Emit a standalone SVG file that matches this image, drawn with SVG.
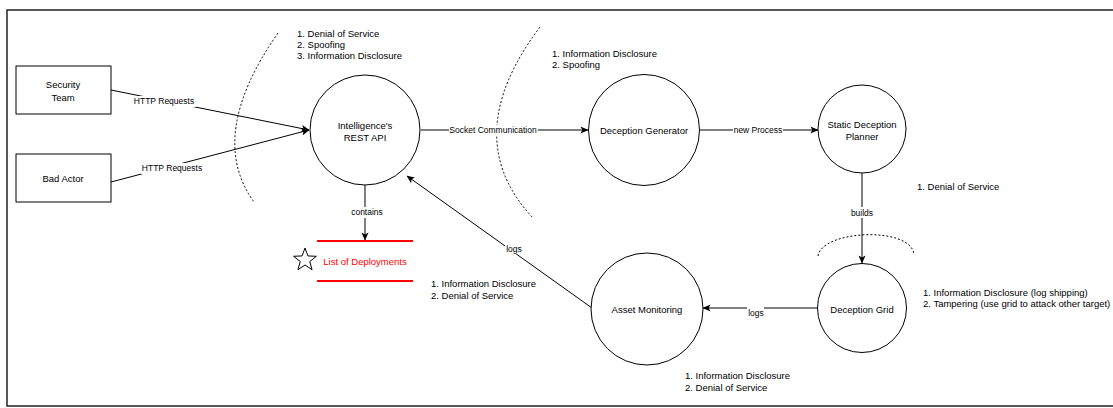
<svg xmlns="http://www.w3.org/2000/svg" width="1113" height="408" viewBox="0 0 1113 408">
  <defs>
    <marker id="arrow" viewBox="0 0 10 10" refX="9.5" refY="5" markerWidth="8" markerHeight="8" markerUnits="userSpaceOnUse" orient="auto">
      <path d="M0,0.5 L10,5 L0,9.5 L2.5,5 Z" fill="#000"/>
    </marker>
    <style>
      text { font-family: "Liberation Sans", Arial, sans-serif; fill: #000; }
      .node { fill: #fff; stroke: #000; stroke-width: 1; }
      .lbl { font-size: 9.5px; text-anchor: middle; dominant-baseline: central; }
      .elbl { font-size: 8.5px; text-anchor: middle; dominant-baseline: central; }
      .list { font-size: 9.5px; dominant-baseline: central; }
      .edge { fill: none; stroke: #000; stroke-width: 1; }
      .bg { fill: #fff; }
      .boundary { fill: none; stroke: #000; stroke-width: 1; stroke-dasharray: 2 2; }
      .store { stroke: #ff0000; stroke-width: 2; }
    </style>
  </defs>

  <rect width="1113" height="408" fill="#fff"/>
  <!-- outer frame -->
  <path d="M1113,10 H7 V406 H1113" fill="none" stroke="#222" stroke-width="1.5"/>

  <!-- trust boundaries -->
  <g id="boundaries">
    <path class="boundary" d="M278,33 Q206,136 254,202"/>
    <path class="boundary" d="M540,27 Q457,137 533,218"/>
    <path class="boundary" d="M818,256 C822,230 910,226 914,254"/>
  </g>

  <!-- connectors -->
  <g id="connectors">
    <line class="edge" x1="111" y1="90" x2="309" y2="130" marker-end="url(#arrow)"/>
    <line class="edge" x1="111" y1="182" x2="309" y2="130" marker-end="url(#arrow)"/>
    <line class="edge" x1="421" y1="130" x2="588" y2="130" marker-end="url(#arrow)"/>
    <line class="edge" x1="699" y1="130" x2="818" y2="130" marker-end="url(#arrow)"/>
    <line class="edge" x1="862" y1="173" x2="862" y2="263" marker-end="url(#arrow)"/>
    <line class="edge" x1="818" y1="308" x2="703" y2="308" marker-end="url(#arrow)"/>
    <line class="edge" x1="592" y1="308" x2="407" y2="176" marker-end="url(#arrow)"/>
    <line class="edge" x1="365" y1="185" x2="365" y2="240" marker-end="url(#arrow)"/>

    <rect class="bg" x="133" y="96" width="63" height="11"/>
    <text class="elbl" x="164" y="101">HTTP Requests</text>
    <rect class="bg" x="141" y="163" width="62" height="11"/>
    <text class="elbl" x="172" y="168">HTTP Requests</text>
    <rect class="bg" x="449" y="125" width="89" height="11"/>
    <text class="elbl" x="493" y="130">Socket Communication</text>
    <rect class="bg" x="733" y="125" width="50" height="11"/>
    <text class="elbl" x="758" y="130">new Process</text>
    <rect class="bg" x="848" y="207" width="28" height="11"/>
    <text class="elbl" x="862" y="213">builds</text>
    <rect class="bg" x="747" y="307" width="17" height="11"/>
    <text class="elbl" x="756" y="313">logs</text>
    <rect class="bg" x="505" y="243" width="18" height="11"/>
    <text class="elbl" x="514" y="249">logs</text>
    <rect class="bg" x="350" y="207" width="34" height="11"/>
    <text class="elbl" x="367" y="212">contains</text>
  </g>

  <!-- external entities -->
  <g id="security-team">
    <rect class="node" x="16" y="66" width="95" height="48"/>
    <text class="lbl" x="63" y="84">Security</text>
    <text class="lbl" x="63" y="97">Team</text>
  </g>
  <g id="bad-actor">
    <rect class="node" x="16" y="154" width="95" height="48"/>
    <text class="lbl" x="63" y="178">Bad Actor</text>
  </g>

  <!-- processes -->
  <g id="rest-api">
    <circle class="node" cx="365" cy="130" r="55"/>
    <text class="lbl" x="365" y="125">Intelligence's</text>
    <text class="lbl" x="365" y="137">REST API</text>
  </g>
  <g id="deception-generator">
    <circle class="node" cx="644" cy="130" r="55.5"/>
    <text class="lbl" x="644" y="130">Deception Generator</text>
  </g>
  <g id="static-deception-planner">
    <circle class="node" cx="862" cy="129" r="44"/>
    <text class="lbl" x="862" y="124">Static Deception</text>
    <text class="lbl" x="862" y="136">Planner</text>
  </g>
  <g id="deception-grid">
    <circle class="node" cx="862" cy="308" r="44.5"/>
    <text class="lbl" x="862" y="309">Deception Grid</text>
  </g>
  <g id="asset-monitoring">
    <circle class="node" cx="647" cy="309" r="56"/>
    <text class="lbl" x="647" y="309">Asset Monitoring</text>
  </g>

  <!-- data store -->
  <g id="list-of-deployments">
    <line class="store" x1="317" y1="241" x2="413" y2="241"/>
    <line class="store" x1="317" y1="281" x2="413" y2="281"/>
    <polygon points="305,248 307.94,255.95 316.41,256.29 309.76,261.55 312.05,269.71 305,265 297.95,269.71 300.24,261.55 293.59,256.29 302.06,255.95" fill="#fff" stroke="#000" stroke-width="1"/>
    <text class="lbl" x="365" y="261" style="fill:#ff0000">List of Deployments</text>
  </g>

  <!-- threat lists -->
  <g id="threats">
    <text class="list" x="297" y="33">1. Denial of Service</text>
    <text class="list" x="297" y="44">2. Spoofing</text>
    <text class="list" x="297" y="55">3. Information Disclosure</text>

    <text class="list" x="552" y="53">1. Information Disclosure</text>
    <text class="list" x="552" y="64">2. Spoofing</text>

    <text class="list" x="917" y="186">1. Denial of Service</text>

    <text class="list" x="923" y="292">1. Information Disclosure (log shipping)</text>
    <text class="list" x="923" y="303">2. Tampering (use grid to attack other target)</text>

    <text class="list" x="431" y="283">1. Information Disclosure</text>
    <text class="list" x="431" y="295">2. Denial of Service</text>

    <text class="list" x="685" y="375">1. Information Disclosure</text>
    <text class="list" x="685" y="387">2. Denial of Service</text>
  </g>
</svg>
